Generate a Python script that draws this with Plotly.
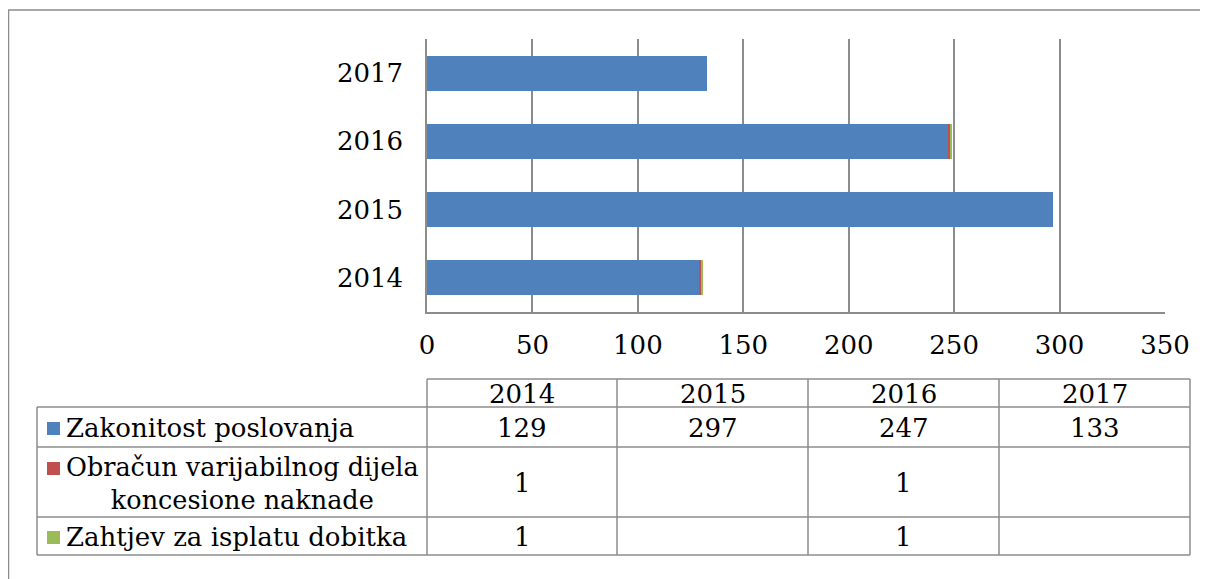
import plotly.graph_objects as go

years = ["2014", "2015", "2016", "2017"]
series_names = ["Zakonitost poslovanja",
                "Obračun varijabilnog dijela<br>koncesione naknade",
                "Zahtjev za isplatu dobitka"]
zakonitost = [129, 297, 247, 133]
obracun = [1, None, 1, None]
zahtjev = [1, None, 1, None]
colors = ["#4F81BD", "#C0504D", "#9BBB59"]
x_ticks = [0, 50, 100, 150, 200, 250, 300, 350]

series_values = [zakonitost, obracun, zahtjev]

FONT = "DejaVu Serif"
FS = 26
GRID = "#8c8c8c"

# page offset (html body margin) -> coordinates below are screen pixels
OFF = 8
WIDTH, HEIGHT = 1208 - OFF, 579 - OFF
L, R, T, B = 427, 1165, 39, 312
W, H = R - L, B - T


def px(x):
    return (x - L) / W


def py(y):
    return (B - y) / H


fig = go.Figure()
for name, vals, col in zip(series_names, series_values, colors):
    fig.add_trace(go.Bar(
        y=years, x=vals, orientation="h", name=name.replace("<br>", " "),
        marker=dict(color=col, line=dict(width=0)), showlegend=False,
    ))

shapes = []
annotations = []

# outer border
shapes.append(dict(type="rect", xref="paper", yref="paper",
                   x0=px(8.5), x1=px(1230), y0=py(10), y1=py(600),
                   line=dict(color="#8c8c8c", width=1.5), layer="below"))

# table geometry
col_x = [427, 617, 808, 999, 1190]
row_y = [379, 407, 447, 517, 555]
label_left = 37


def hline(x0, x1, y):
    shapes.append(dict(type="line", xref="paper", yref="paper",
                       x0=px(x0), x1=px(x1), y0=py(y), y1=py(y),
                       line=dict(color=GRID, width=1.5)))


def vline(x, y0, y1):
    shapes.append(dict(type="line", xref="paper", yref="paper",
                       x0=px(x), x1=px(x), y0=py(y0), y1=py(y1),
                       line=dict(color=GRID, width=1.5)))


hline(col_x[0], col_x[-1], row_y[0])
for y in row_y[1:]:
    hline(label_left, col_x[-1], y)
vline(label_left, row_y[1], row_y[-1])
for x in col_x:
    vline(x, row_y[0], row_y[-1])


def txt(x, y, s, xanchor="center", align="center", size=FS):
    annotations.append(dict(x=px(x), y=py(y), xref="paper", yref="paper",
                            text=s, showarrow=False, xanchor=xanchor,
                            yanchor="middle", align=align,
                            font=dict(family=FONT, size=size, color="#000")))


# header
for i, yr in enumerate(years):
    txt((col_x[i] + col_x[i + 1]) / 2, (row_y[0] + row_y[1]) / 2 + 1, yr)

# rows
for r, (name, vals, col) in enumerate(zip(series_names, series_values, colors)):
    yc = (row_y[r + 1] + row_y[r + 2]) / 2 + 1
    if "<br>" in name:
        txt(64, yc, name, xanchor="left", align="center", size=25.5)
        sq_y = yc - 15
    else:
        txt(64, yc, name, xanchor="left", align="left")
        sq_y = yc
    shapes.append(dict(type="rect", xref="paper", yref="paper",
                       x0=px(47), x1=px(60), y0=py(sq_y - 6), y1=py(sq_y + 7),
                       fillcolor=col, line=dict(width=0)))
    for i, v in enumerate(vals):
        if v is not None:
            txt((col_x[i] + col_x[i + 1]) / 2, yc, str(v))

fig.update_layout(
    width=WIDTH, height=HEIGHT,
    margin=dict(l=L - OFF, r=WIDTH - (R - OFF), t=T - OFF, b=HEIGHT - (B - OFF), pad=0),
    barmode="stack", bargap=0.487,
    plot_bgcolor="white", paper_bgcolor="white",
    font=dict(family=FONT, size=FS, color="#000"),
    xaxis=dict(range=[0, 350], tickvals=x_ticks, showgrid=True, gridcolor=GRID,
               gridwidth=1.5, showline=True, linecolor=GRID, linewidth=1.5,
               zeroline=False, ticks="outside", ticklen=9,
               tickcolor="rgba(0,0,0,0)", tickfont=dict(family=FONT, size=FS)),
    yaxis=dict(categoryorder="array", categoryarray=years, showgrid=False,
               showline=True, linecolor=GRID, linewidth=1.5,
               ticks="outside", ticklen=17, tickcolor="rgba(0,0,0,0)",
               tickfont=dict(family=FONT, size=FS)),
    shapes=shapes, annotations=annotations,
)

fig.write_html("out.html")
